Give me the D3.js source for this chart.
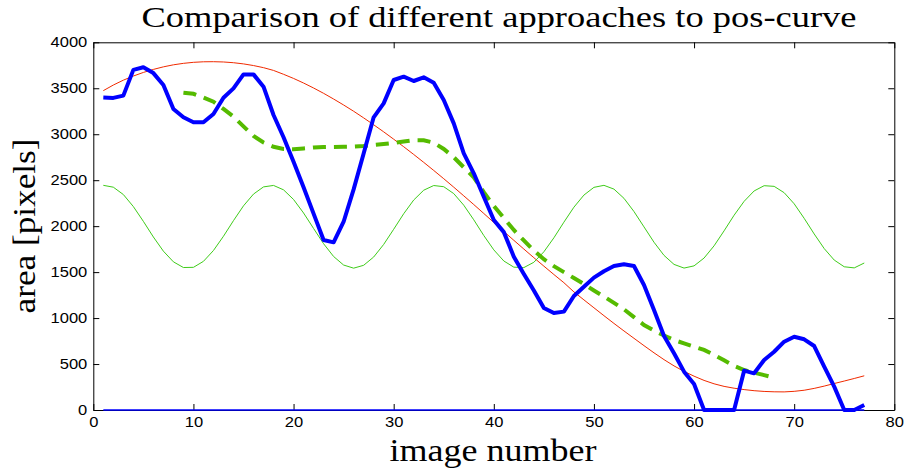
<!DOCTYPE html>
<html>
<head>
<meta charset="utf-8">
<script src="https://cdn.jsdelivr.net/npm/d3@7"></script>
<style>
  body { margin: 0; background: #fff; }
  .tick text { font-family: "Liberation Sans", Arial, sans-serif; font-size: 14px; fill: #000; }
  .label { font-family: "Liberation Serif", "DejaVu Serif", serif; fill: #000; }
</style>
</head>
<body>
<div id="wrapper"></div>
<script>
// image numbers on the x axis
const imageNumbers = d3.range(1, 78)

// thick blue: measured area
const measured = [3400, 3395, 3420, 3700, 3728, 3665, 3535, 3275, 3185, 3130,
  3130, 3220, 3397, 3499, 3651, 3651, 3517, 3209, 2967, 2700,
  2423, 2136, 1849, 1824, 2048, 2400, 2790, 3184, 3336, 3590,
  3626, 3579, 3619, 3561, 3372, 3118, 2792, 2575, 2320, 2067,
  1935, 1668, 1480, 1300, 1110, 1055, 1070, 1240, 1341, 1440,
  1510, 1566, 1585, 1566, 1360, 1088, 805, 617, 417, 283,
  0, 0, 0, 0, 428, 399, 544, 634, 743, 797,
  769, 696, 471, 254, 0, 0, 54]

// thin red: polynomial fit
const polyFit = [3474, 3535, 3588, 3633, 3672, 3705, 3733, 3755, 3771, 3782,
  3788, 3789, 3786, 3778, 3765, 3747, 3724, 3694, 3652, 3607,
  3557, 3503, 3445, 3383, 3318, 3250, 3178, 3103, 3026, 2946,
  2864, 2780, 2694, 2606, 2516, 2424, 2330, 2235, 2138, 2040,
  1942, 1846, 1751, 1657, 1565, 1474, 1385, 1285, 1198, 1112,
  1026, 942, 860, 780, 700, 622, 548, 480, 420, 368,
  322, 285, 257, 237, 222, 210, 202, 198, 197, 203,
  215, 235, 260, 288, 315, 343, 372]

// thin green: periodic model
const periodic = [2444, 2424, 2344, 2213, 2052, 1882, 1728, 1612, 1550, 1552,
  1617, 1735, 1890, 2060, 2221, 2349, 2427, 2443, 2395, 2290,
  2143, 1975, 1809, 1670, 1577, 1543, 1574, 1664, 1801, 1966,
  2135, 2284, 2391, 2442, 2429, 2354, 2228, 2069, 1898, 1742,
  1621, 1554, 1549, 1607, 1721, 1873, 2043, 2206, 2338, 2422,
  2444, 2403, 2303, 2159, 1992, 1825, 1682, 1584, 1544, 1568,
  1653, 1786, 1949, 2119, 2270, 2383, 2440, 2433, 2364, 2243,
  2085, 1915, 1756, 1631, 1558, 1546, 1599]

// dashed green: moving average, image 9 .. 68
const smoothStart = 9
const smoothed = [3452, 3440, 3400, 3354, 3275, 3191, 3085, 2981, 2910, 2864,
  2840, 2836, 2845, 2855, 2860, 2862, 2864, 2866, 2872, 2882,
  2893, 2905, 2920, 2935, 2935, 2908, 2840, 2750, 2640, 2530,
  2370, 2220, 2090, 1958, 1845, 1735, 1640, 1565, 1500, 1435,
  1370, 1300, 1235, 1165, 1095, 1010, 925, 865, 810, 761,
  725, 690, 653, 600, 540, 480, 435, 405, 380, 350]

// thin blue along zero
const zeroX = [1, 77]
const zeroY = [0, 0]

const xTickValues = [0, 10, 20, 30, 40, 50, 60, 70, 80]
const yTickValues = [0, 500, 1000, 1500, 2000, 2500, 3000, 3500, 4000]

const titleText = "Comparison of different approaches to pos-curve"
const xLabelText = "image number"
const yLabelText = "area [pixels]"

function drawChart() {
  let dimensions = {
    width: 905,
    height: 473,
    margin: { top: 42.3, right: 10.7, bottom: 63, left: 93.3 },
  }
  dimensions.boundedWidth = dimensions.width - dimensions.margin.left - dimensions.margin.right
  dimensions.boundedHeight = dimensions.height - dimensions.margin.top - dimensions.margin.bottom

  const svg = d3.select("#wrapper").append("svg")
    .attr("width", dimensions.width)
    .attr("height", dimensions.height)

  const bounds = svg.append("g")
    .attr("transform", `translate(${dimensions.margin.left},${dimensions.margin.top})`)

  const xScale = d3.scaleLinear().domain([0, 80]).range([0, dimensions.boundedWidth])
  const yScale = d3.scaleLinear().domain([0, 4000]).range([dimensions.boundedHeight, 0])

  const plain = d3.format("d")

  // axes, ticks pointing inwards on all four sides
  const stretch = sel => sel.selectAll("text")
    .attr("textLength", d => plain(d).length * 9.2)
    .attr("lengthAdjust", "spacingAndGlyphs")

  bounds.append("g")
    .attr("transform", `translate(0,${dimensions.boundedHeight})`)
    .call(d3.axisBottom(xScale).tickValues(xTickValues).tickFormat(plain)
      .tickSize(-6).tickPadding(7).tickSizeOuter(0))
    .call(stretch)
  bounds.append("g")
    .call(d3.axisTop(xScale).tickValues(xTickValues).tickSize(-6).tickFormat("").tickSizeOuter(0))
  bounds.append("g")
    .call(d3.axisLeft(yScale).tickValues(yTickValues).tickFormat(plain)
      .tickSize(-6).tickPadding(6).tickSizeOuter(0))
    .call(stretch)
  bounds.append("g")
    .attr("transform", `translate(${dimensions.boundedWidth},0)`)
    .call(d3.axisRight(yScale).tickValues(yTickValues).tickSize(-6).tickFormat("").tickSizeOuter(0))

  bounds.selectAll(".domain").attr("stroke", "#000")
  bounds.selectAll(".tick line").attr("stroke", "#000")

  const line = d3.line()
    .x(d => xScale(d[0]))
    .y(d => yScale(d[1]))

  const pair = (xs, ys) => ys.map((v, i) => [xs[i], v])

  bounds.append("path")
    .attr("d", line(pair(imageNumbers, polyFit)))
    .attr("fill", "none").attr("stroke", "#f02a00").attr("stroke-width", 1)

  bounds.append("path")
    .attr("d", line(pair(imageNumbers, periodic)))
    .attr("fill", "none").attr("stroke", "#3fcc1a").attr("stroke-width", 1)

  bounds.append("path")
    .attr("d", line(smoothed.map((v, i) => [smoothStart + i, v])))
    .attr("fill", "none").attr("stroke", "#55bb00").attr("stroke-width", 4)
    .attr("stroke-dasharray", "13,8")

  bounds.append("path")
    .attr("d", line(pair(zeroX, zeroY)))
    .attr("fill", "none").attr("stroke", "#0000ff").attr("stroke-width", 1.5)

  bounds.append("path")
    .attr("d", line(pair(imageNumbers, measured)))
    .attr("fill", "none").attr("stroke", "#0000ff").attr("stroke-width", 4)
    .attr("stroke-linejoin", "round")

  // labels
  svg.append("text").attr("class", "label")
    .attr("x", 499).attr("y", 27)
    .attr("text-anchor", "middle")
    .style("font-size", "29px")
    .attr("textLength", 715).attr("lengthAdjust", "spacingAndGlyphs")
    .text(titleText)

  svg.append("text").attr("class", "label")
    .attr("x", 493).attr("y", 461)
    .attr("text-anchor", "middle")
    .style("font-size", "31px")
    .attr("textLength", 207).attr("lengthAdjust", "spacingAndGlyphs")
    .text(xLabelText)

  svg.append("text").attr("class", "label")
    .attr("transform", "translate(35,226) rotate(-90)")
    .attr("text-anchor", "middle")
    .style("font-size", "31px")
    .attr("textLength", 175).attr("lengthAdjust", "spacingAndGlyphs")
    .text(yLabelText)
}
drawChart()
</script>
</body>
</html>
